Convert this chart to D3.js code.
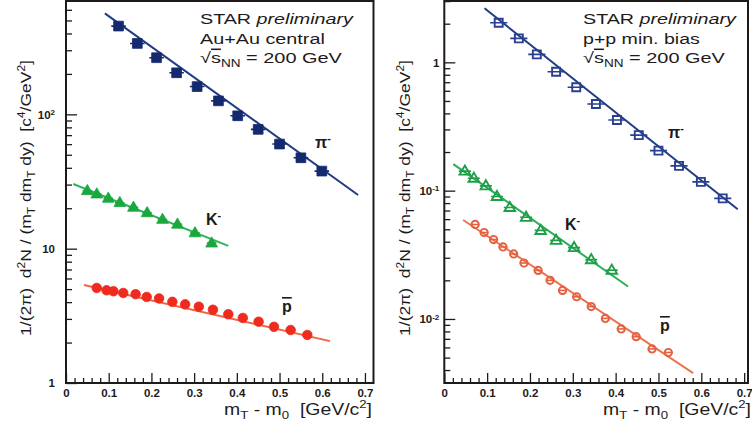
<!DOCTYPE html>
<html>
<head>
<meta charset="utf-8">
<script src="https://cdn.jsdelivr.net/npm/d3@7"></script>
<style>
  body { margin: 0; background: #fff; }
  text { font-family: "Liberation Sans", Arial, sans-serif; }
</style>
</head>
<body>
<svg id="chart" width="752" height="430"></svg>
<script>
// ---- Au+Au central (left panel) ----
const auPiX = [0.123, 0.167, 0.212, 0.259, 0.307, 0.357, 0.402, 0.450, 0.500, 0.550, 0.599];
const auPiY = [454, 337, 264, 204, 161, 126, 97.6, 77.3, 60.1, 47.5, 37.8];
const auPiFitX = [0.091, 0.684];
const auPiFitY = [565, 25.1];

const auKX = [0.050, 0.072, 0.099, 0.126, 0.158, 0.190, 0.226, 0.261, 0.302, 0.341];
const auKY = [27.0, 25.5, 23.7, 22.0, 20.3, 18.5, 16.5, 15.2, 13.1, 11.0];
const auKFitX = [0.017, 0.380];
const auKFitY = [30.3, 10.5];

const auPbarX = [0.072, 0.095, 0.111, 0.134, 0.163, 0.189, 0.218, 0.249, 0.279, 0.311, 0.344, 0.380, 0.414, 0.451, 0.487, 0.526, 0.565];
const auPbarY = [5.10, 4.90, 4.82, 4.68, 4.58, 4.37, 4.26, 4.02, 3.85, 3.70, 3.51, 3.25, 3.05, 2.86, 2.62, 2.48, 2.28];
const auPbarFitX = [0.042, 0.618];
const auPbarFitY = [5.36, 2.05];

// ---- p+p min. bias (right panel) ----
const ppPiX = [0.127, 0.174, 0.216, 0.261, 0.308, 0.354, 0.403, 0.454, 0.500, 0.548, 0.599, 0.650];
const ppPiY = [2.035, 1.538, 1.154, 0.845, 0.639, 0.473, 0.355, 0.271, 0.205, 0.156, 0.117, 0.087];
const ppPiFitX = [0.094, 0.685];
const ppPiFitY = [2.635, 0.0716];

const ppKX = [0.048, 0.069, 0.097, 0.123, 0.153, 0.191, 0.225, 0.261, 0.303, 0.343, 0.391];
const ppKY = [0.142, 0.125, 0.109, 0.090, 0.074, 0.062, 0.049, 0.041, 0.036, 0.029, 0.024];
const ppKFitX = [0.021, 0.429];
const ppKFitY = [0.161, 0.0179];

const ppPbarX = [0.072, 0.093, 0.115, 0.137, 0.162, 0.186, 0.219, 0.247, 0.276, 0.309, 0.343, 0.376, 0.413, 0.448, 0.485, 0.523];
const ppPbarY = [0.0545, 0.0472, 0.0416, 0.0364, 0.0321, 0.0273, 0.0239, 0.0200, 0.0167, 0.0149, 0.0125, 0.0101, 0.00836, 0.00728, 0.00584, 0.00548];
const ppPbarFitX = [0.044, 0.581];
const ppPbarFitY = [0.0591, 0.00378];

// ---- ticks ----
const xTickValues = [0, 0.1, 0.2, 0.3, 0.4, 0.5, 0.6, 0.7];
const xTickLabels = ["0", "0.1", "0.2", "0.3", "0.4", "0.5", "0.6", "0.7"];
const auYTickValues = [1, 10, 100];
const auYTickLabels = [["1"], ["10"], ["10", "2"]];
const ppYTickValues = [0.01, 0.1, 1];
const ppYTickLabels = [["10", "-2"], ["10", "-1"], ["1"]];

const svg = d3.select("#chart");
const BOTTOM = 383;
const INK = "#1e1a1a";

function pts(xs, ys) { return xs.map((v, i) => ({ x: v, y: ys[i] })); }

// text with sub/superscripts: parts = [[string, kind, style]]
function rich(t, parts, size) {
  let shift = 0;
  parts.forEach(([s, kind, style]) => {
    const target = kind === "sup" ? -0.42 * size : kind === "sub" ? 0.28 * size : 0;
    const ts = t.append("tspan")
      .attr("dy", target - shift)
      .attr("font-size", kind ? size * 0.68 : size)
      .text(s);
    if (style) ts.attr("style", style);
    shift = target;
  });
  return t;
}

function fitted(g, parts, size, width, tf, anchor) {
  const t = g.append("text").attr("font-size", size).style("white-space", "pre")
    .attr("text-anchor", anchor || "start").attr("fill", INK);
  rich(t, parts, size);
  const s = width / t.node().getBBox().width;
  t.attr("transform", `${tf} scale(${s},1)`);
  return t;
}

function drawPanel(p) {
  const g = svg.append("g");
  const x = d3.scaleLinear().domain(p.xDomain).range(p.xRange);
  const y = d3.scaleLog().domain(p.yDomain).range([BOTTOM, 0]);
  const clipId = "clip" + p.id;
  svg.append("clipPath").attr("id", clipId).append("rect")
    .attr("x", p.xRange[0]).attr("y", 1)
    .attr("width", p.xRange[1] - p.xRange[0]).attr("height", BOTTOM - 1);

  // x axis: major + minor ticks pointing inwards
  const xAx = g.append("g").attr("transform", `translate(0,${BOTTOM})`)
    .call(d3.axisBottom(x).tickValues(xTickValues).tickSize(-10).tickPadding(6)
      .tickFormat((d, i) => xTickLabels[i]));
  xAx.select(".domain").remove();
  xAx.selectAll("text").attr("font-size", 11.5).attr("font-weight", "bold")
    .attr("font-family", "Liberation Sans, Arial").attr("fill", INK);
  const xMinor = d3.range(0, 0.72, 0.02).filter(v => Math.abs(v * 10 - Math.round(v * 10)) > 1e-6 && v <= p.xDomain[1]);
  const xAxm = g.append("g").attr("transform", `translate(0,${BOTTOM})`)
    .call(d3.axisBottom(x).tickValues(xMinor).tickSize(-5).tickFormat(""));
  xAxm.select(".domain").remove();

  // y axis (log)
  const yAx = g.append("g").attr("transform", `translate(${p.xRange[0]},0)`)
    .call(d3.axisLeft(y).tickValues(p.yTicks).tickSize(-11).tickPadding(p.yPad).tickFormat(() => ""));
  yAx.select(".domain").remove();
  yAx.selectAll(".tick text").each(function (d, i) {
    const lab = p.yLabels[i];
    const t = d3.select(this).attr("font-size", 11.5).attr("font-weight", "bold")
      .attr("font-family", "Liberation Sans, Arial").attr("fill", INK);
    t.append("tspan").text(lab[0]);
    if (lab[1]) t.append("tspan").attr("dy", "-0.45em").attr("font-size", 8).text(lab[1]);
  });
  const yMinor = y.ticks().filter(v => Math.abs(Math.log10(v) - Math.round(Math.log10(v))) > 1e-6);
  const yAxm = g.append("g").attr("transform", `translate(${p.xRange[0]},0)`)
    .call(d3.axisLeft(y).tickValues(yMinor).tickSize(-6).tickFormat(""));
  yAxm.select(".domain").remove();
  g.selectAll(".tick line").attr("stroke", INK).attr("stroke-width", 1.3);

  // series
  const body = g.append("g").attr("clip-path", `url(#${clipId})`);
  const line = d3.line().x(d => x(d.x)).y(d => y(d.y));
  p.series.forEach(s => {
    body.append("path").datum(pts(s.fitX, s.fitY))
      .attr("d", line).attr("fill", "none")
      .attr("stroke", s.lineColor).attr("stroke-width", 2);
  });
  p.series.forEach(s => {
    const data = pts(s.xs, s.ys);
    body.append("g").selectAll("line").data(data).join("line")
      .attr("x1", d => x(d.x - s.xErr)).attr("x2", d => x(d.x + s.xErr))
      .attr("y1", d => y(d.y)).attr("y2", d => y(d.y))
      .attr("stroke", s.color).attr("stroke-width", 1.6);
    const sym = d3.symbol().type(s.symbol).size(s.size);
    body.append("g").selectAll("path").data(data).join("path")
      .attr("transform", d => `translate(${x(d.x)},${y(d.y) + (s.dy || 0)})`)
      .attr("d", sym)
      .attr("fill", s.open ? "none" : s.color)
      .attr("stroke", s.color).attr("stroke-width", s.open ? 1.9 : 0.8);
  });

  // frame
  g.append("rect").attr("x", p.xRange[0]).attr("y", 1)
    .attr("width", p.xRange[1] - p.xRange[0]).attr("height", BOTTOM - 1)
    .attr("fill", "none").attr("stroke", INK).attr("stroke-width", 2);

  // particle labels
  p.labels.forEach(l => {
    const t = g.append("text").attr("x", l.x).attr("y", l.y)
      .attr("font-size", 16).attr("font-weight", "bold").attr("fill", INK);
    t.append("tspan").text(l.text).attr("style", l.bar ? "text-decoration: overline" : null);
    if (l.sup) t.append("tspan").attr("dy", "-0.55em").attr("font-size", 11).text(l.sup);
  });

  // header text
  const hx = p.headerX;
  fitted(g, [["STAR "], ["preliminary", null, "font-style: italic"]], 15, 155, `translate(${hx},24)`);
  fitted(g, [[p.system]], 15, p.systemWidth, `translate(${hx},44)`);
  fitted(g, [["\u221A"], ["s", null, "text-decoration: overline"], ["NN", "sub"], [" = 200 GeV"]], 15, 142, `translate(${hx},63)`);

  // axis titles
  fitted(g, [["m"], ["T", "sub"], [" - m"], ["0", "sub"], ["  [GeV/c"], ["2", "sup"], ["]"]], 16, 148,
    `translate(${p.xTitleRight},415)`, "end");
  fitted(g, [["1/(2\u03C0)  d"], ["2", "sup"], ["N / (m"], ["T", "sub"], [" dm"], ["T", "sub"], [" dy)  [c"], ["4", "sup"], ["/GeV"], ["2", "sup"], ["]"]],
    15, 276, `translate(${p.yTitleX},198) rotate(-90)`, "middle");
}

drawPanel({
  id: "au", xDomain: [0, 0.72], xRange: [66, 373.5], yDomain: [1, 710],
  yTicks: auYTickValues, yLabels: auYTickLabels, yPad: 11,
  headerX: 200, system: "Au+Au central", systemWidth: 125, xTitleRight: 372, yTitleX: 31,
  series: [
    { xs: auPiX, ys: auPiY, fitX: auPiFitX, fitY: auPiFitY, color: "#15296e", lineColor: "#1f3c84",
      symbol: d3.symbolSquare, size: 95, xErr: 0.017 },
    { xs: auKX, ys: auKY, fitX: auKFitX, fitY: auKFitY, color: "#1aa83e", lineColor: "#2db35a",
      symbol: d3.symbolTriangle, size: 60, xErr: 0.011, dy: 0.5 },
    { xs: auPbarX, ys: auPbarY, fitX: auPbarFitX, fitY: auPbarFitY, color: "#ee2b1e", lineColor: "#f2653f",
      symbol: d3.symbolCircle, size: 72, xErr: 0.008 }
  ],
  labels: [
    { text: "\u03C0", sup: "-", x: 315, y: 148 },
    { text: "K", sup: "-", x: 206, y: 225 },
    { text: "p", bar: true, x: 282, y: 312 }
  ]
});

drawPanel({
  id: "pp", xDomain: [0, 0.709], xRange: [444.3, 748], yDomain: [0.00317, 3.06],
  yTicks: ppYTickValues, yLabels: ppYTickLabels, yPad: 5,
  headerX: 583, system: "p+p min. bias", systemWidth: 117, xTitleRight: 751, yTitleX: 410,
  series: [
    { xs: ppPiX, ys: ppPiY, fitX: ppPiFitX, fitY: ppPiFitY, color: "#2a3f92", lineColor: "#1f3c84",
      symbol: d3.symbolSquare, size: 64, open: true, xErr: 0.02 },
    { xs: ppKX, ys: ppKY, fitX: ppKFitX, fitY: ppKFitY, color: "#1f9e48", lineColor: "#2aae5a",
      symbol: d3.symbolTriangle, size: 48, open: true, xErr: 0.014, dy: 0.5 },
    { xs: ppPbarX, ys: ppPbarY, fitX: ppPbarFitX, fitY: ppPbarFitY, color: "#e4603f", lineColor: "#ec7352",
      symbol: d3.symbolCircle, size: 42, open: true, xErr: 0.01 }
  ],
  labels: [
    { text: "\u03C0", sup: "-", x: 668, y: 138 },
    { text: "K", sup: "-", x: 565, y: 230 },
    { text: "p", bar: true, x: 660, y: 331 }
  ]
});
</script>
</body>
</html>
